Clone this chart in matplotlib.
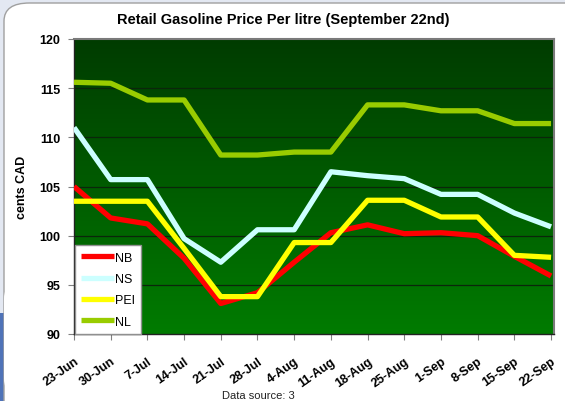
import numpy as np
import matplotlib
matplotlib.use("Agg")
import matplotlib.pyplot as plt
from matplotlib.patches import FancyBboxPatch, Rectangle
from matplotlib.transforms import ScaledTranslation

plt.rcParams['font.family'] = ['Liberation Sans', 'DejaVu Sans']

# data (cents per litre)
weeks = ["23-Jun", "30-Jun", "7-Jul", "14-Jul", "21-Jul", "28-Jul", "4-Aug",
         "11-Aug", "18-Aug", "25-Aug", "1-Sep", "8-Sep", "15-Sep", "22-Sep"]
nb = [105.0, 101.8, 101.2, 97.7, 93.1, 94.2, 97.3,
      100.3, 101.1, 100.2, 100.3, 100.0, 97.9, 95.9]
ns = [111.0, 105.7, 105.7, 99.7, 97.3, 100.6, 100.6,
      106.5, 106.1, 105.8, 104.2, 104.2, 102.3, 100.9]
pei = [103.5, 103.5, 103.5, 98.7, 93.8, 93.8, 99.3,
       99.3, 103.6, 103.6, 101.9, 101.9, 98.0, 97.8]
nl = [115.6, 115.5, 113.8, 113.8, 108.2, 108.2, 108.5,
      108.5, 113.3, 113.3, 112.7, 112.7, 111.4, 111.4]

series = [("NB", nb, "#ff0000"), ("NS", ns, "#ccffff"),
          ("PEI", pei, "#ffff00"), ("NL", nl, "#99cc00")]

fig = plt.figure(figsize=(5.65, 4.02), dpi=100, facecolor="#e3e8f2")

# white rounded chart panel with a bit of blue at the lower left
fig.patches.append(Rectangle((0, 0), 0.03, 0.22, transform=fig.transFigure,
                             facecolor="#4f73b8", edgecolor="none", zorder=-3))
fig.patches.append(FancyBboxPatch((4 / 565, -0.1), 1.2, 1.1 - 4 / 402,
                                  boxstyle="round,pad=0,rounding_size=0.045",
                                  transform=fig.transFigure, facecolor="white",
                                  edgecolor="#a0a0a0", linewidth=1, zorder=-2))
fig.patches.append(FancyBboxPatch((4 / 565, 2 / 402), 0.1, 0.3,
                                  boxstyle="round,pad=0,rounding_size=0.05",
                                  transform=fig.transFigure, facecolor="white",
                                  edgecolor="none", zorder=-1))

ax = fig.add_axes([74 / 565, 67 / 402, 480 / 565, 295 / 402])

# green vertical gradient background
grad = np.linspace(0, 1, 256).reshape(-1, 1)
cmap = matplotlib.colors.LinearSegmentedColormap.from_list("g", ["#007b00", "#003c00"])
ax.imshow(grad, extent=[0, 1, 0, 1], transform=ax.transAxes, aspect="auto",
          cmap=cmap, origin="lower", zorder=0)

x = np.arange(len(weeks))
for name, vals, col in series:
    ax.plot(x, vals, color=col, lw=3.8, label=name, zorder=3,
            solid_joinstyle="round", solid_capstyle="butt")

ax.set_xlim(0, 13.08)
ax.set_ylim(90, 120)
ax.set_yticks(range(90, 121, 5))
ax.set_xticks(x)
ax.set_xticklabels(weeks, rotation=35, ha="right", rotation_mode="anchor",
                   fontsize=9, fontweight="bold")
shift = ScaledTranslation(5 / 100, 0, fig.dpi_scale_trans)
for lab in ax.get_xticklabels():
    lab.set_transform(lab.get_transform() + shift)
for lab in ax.get_yticklabels():
    lab.set_fontweight("bold")
    lab.set_fontsize(9)
ax.tick_params(axis="both", direction="out", length=4, color="#808080", pad=6)
ax.tick_params(axis="x", pad=11)

for yv in range(95, 120, 5):
    ax.axhline(yv, color="#0b260b", lw=0.9, zorder=1)

for side in ["top", "right"]:
    ax.spines[side].set_color("#7a7a7a")
    ax.spines[side].set_linewidth(1.5)
for side in ["left", "bottom"]:
    ax.spines[side].set_color("#222222")
    ax.spines[side].set_linewidth(1.0)

ax.set_ylabel("cents CAD", fontsize=9, fontweight="bold", labelpad=8)

leg = ax.legend(loc="lower left", bbox_to_anchor=(0.002, 0.0), borderaxespad=0,
                fancybox=False, framealpha=1, edgecolor="#909090", fontsize=9,
                handlelength=2.6, labelspacing=0.75, handletextpad=0.1,
                borderpad=0.5)
leg.get_frame().set_linewidth(1.0)

fig.text(283 / 565, 1 - 20 / 402, "Retail Gasoline Price Per litre (September 22nd)",
         ha="center", va="center", fontsize=10.5, fontweight="bold")
fig.text(258 / 565, 1 - 396 / 402, "Data source: 3", ha="center", va="center",
         fontsize=8, color="#222222")

fig.savefig("out.png", dpi=100, facecolor=fig.get_facecolor())
